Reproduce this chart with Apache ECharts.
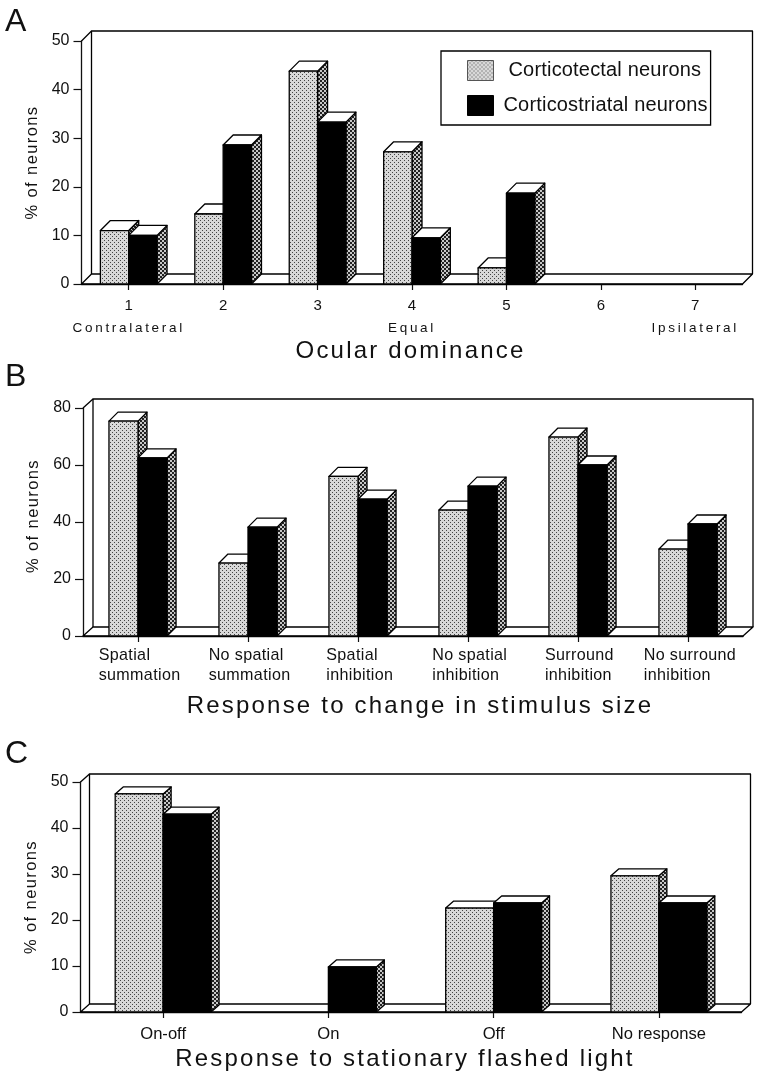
<!DOCTYPE html>
<html><head><meta charset="utf-8">
<style>html,body{margin:0;padding:0;background:#fff}#c{width:759px;height:1080px}</style>
<script src="https://cdn.jsdelivr.net/npm/echarts@6/dist/echarts.min.js"></script>
</head><body><div id="c"></div>
<script>
// ---- data ----
const seriesNames = ['Corticotectal neurons', 'Corticostriatal neurons'];
const catsA = ['1', '2', '3', '4', '5', '6', '7'];
const subLabelsA = ['Contralateral', '', '', 'Equal', '', '', 'Ipsilateral'];
const tectalA = [11, 14.4, 43.8, 27.2, 3.3, null, null];
const striatalA = [10, 28.6, 33.3, 9.5, 18.7, null, null];
const catsB = ['Spatial\nsummation', 'No spatial\nsummation', 'Spatial\ninhibition', 'No spatial\ninhibition', 'Surround\ninhibition', 'No surround\ninhibition'];
const tectalB = [75.4, 25.6, 56, 44.2, 69.8, 30.5];
const striatalB = [62.5, 38.2, 48, 52.6, 60, 39.3];
const catsC = ['On-off', 'On', 'Off', 'No response'];
const tectalC = [47.4, null, 22.6, 29.6];
const striatalC = [43, 9.8, 23.7, 23.7];
const titles = ['Ocular dominance', 'Response to change in stimulus size', 'Response to stationary flashed light'];

// tracking of the typeset figure text, keyed by font size
const tracking = {24: 2.2, 13.5: 2.7, 16.5: 1.4, 20: 0.18, 16.1: 0.35};
const ft = CanvasRenderingContext2D.prototype.fillText;
CanvasRenderingContext2D.prototype.fillText = function (t, x, y, m) {
  const s = parseFloat((this.font.match(/([\d.]+)px/) || [0, 0])[1]);
  this.letterSpacing = (tracking[s] || 0) + 'px';
  return m === undefined ? ft.call(this, t, x, y) : ft.call(this, t, x, y, m);
};

function stipple(bg, dot, size) {
  const c = document.createElement('canvas');
  c.width = c.height = 4;
  const g = c.getContext('2d');
  g.fillStyle = bg; g.fillRect(0, 0, 4, 4);
  g.fillStyle = dot;
  g.fillRect(0, 0, size, size); g.fillRect(2, 2, size, size);
  return {image: c, repeat: 'repeat'};
}
const light = stipple('#d8d8d8', '#444444', 1);
const dark = stipple('#c8c8c8', '#222222', 2);
const ink = '#111';
const FONT = '"Liberation Sans", Arial, sans-serif';

function bars(dep, gi, k, name, vals, frac) {
  return {
    type: 'custom', name, xAxisIndex: gi, yAxisIndex: gi, clip: false, z: 3 + k,
    itemStyle: {color: k === 0 ? light : '#000'},
    data: vals.map((v, i) => [i, v === null ? NaN : v]),
    encode: {x: 0, y: 1},
    renderItem(params, api) {
      const v = api.value(1);
      if (isNaN(v)) return null;
      const c = api.coord([api.value(0), 0]);
      const t = api.coord([api.value(0), v]);
      const w = api.size([1, 0])[0] * frac;
      const x0 = k === 0 ? c[0] - w : c[0];
      const x1 = x0 + w, yb = c[1], yt = t[1];
      const line = {stroke: '#000', lineWidth: 1.3, lineJoin: 'round'};
      const poly = (pts, fill) => ({type: 'polygon', shape: {points: pts}, style: Object.assign({fill}, line)});
      return {type: 'group', children: [
        poly([[x1, yb], [x1, yt], [x1 + dep[0], yt - dep[1]], [x1 + dep[0], yb - dep[1]]], dark),
        poly([[x0, yt], [x0 + dep[0], yt - dep[1]], [x1 + dep[0], yt - dep[1]], [x1, yt]], '#fff'),
        poly([[x0, yb], [x0, yt], [x1, yt], [x1, yb]], k === 0 ? light : '#000')
      ]};
    }
  };
}
function wall(dep, gi) {
  return {
    type: 'custom', xAxisIndex: gi, yAxisIndex: gi, clip: false, z: 1, silent: true,
    data: [[0, 0]], encode: {x: 0, y: 1},
    renderItem(params) {
      const g = params.coordSys;
      const L = g.x, R = g.x + g.width, T = g.y, B = g.y + g.height, dx = dep[0], dy = dep[1];
      const s = {stroke: '#000', lineWidth: 1.3, fill: 'none', lineJoin: 'round'};
      return {type: 'group', children: [
        {type: 'polyline', shape: {points: [[L + dx, B - dy], [L + dx, T - dy], [R + dx, T - dy], [R + dx, B - dy]]}, style: s},
        {type: 'polygon', shape: {points: [[L, B], [L + dx, B - dy], [R + dx, B - dy], [R, B]]}, style: s},
        {type: 'line', shape: {x1: L, y1: T, x2: L + dx, y2: T - dy}, style: s}
      ]};
    }
  };
}
const gridsDef = [
  {left: 81.5, top: 41, width: 661, height: 243},
  {left: 83, top: 408, width: 660, height: 228},
  {left: 80.5, top: 782, width: 661, height: 230}
];
const axisLine = {show: true, lineStyle: {color: ink, width: 1.3}};
const tick = len => ({show: true, length: len, lineStyle: {color: ink, width: 1.2}, alignWithLabel: true});
function xAxis(gi, data, gap, label, namePad) {
  return {
    type: 'category', gridIndex: gi, data, boundaryGap: true,
    axisLine, axisTick: tick(6), axisLabel: Object.assign({interval: 0, color: ink, fontFamily: FONT}, label),
    name: titles[gi], nameLocation: 'middle', nameGap: gap,
    nameTextStyle: {fontSize: 24, color: ink, fontFamily: FONT, padding: namePad},
    splitLine: {show: false}
  };
}
function yAxis(gi, max, interval, gap, pad) {
  return {
    type: 'value', gridIndex: gi, min: 0, max, interval,
    axisLine, axisTick: tick(8), splitLine: {show: false},
    axisLabel: {fontSize: 16, color: ink, margin: 12, fontFamily: FONT},
    name: '% of neurons', nameLocation: 'middle', nameGap: gap, nameRotate: 90,
    nameTextStyle: {fontSize: 16.5, color: ink, fontFamily: FONT, padding: pad}
  };
}
const option = {
  animation: false,
  backgroundColor: '#fff',
  textStyle: {fontFamily: FONT},
  title: [['A', 6], ['B', 361], ['C', 738]].map((d) => ({
    text: d[0], left: 5, top: d[1], padding: 0,
    textStyle: {fontSize: 32, fontWeight: 'normal', color: ink, fontFamily: FONT}
  })),
  grid: gridsDef,
  legend: {
    data: seriesNames.map((n, i) => ({name: n, icon: 'rect',
      itemStyle: {color: i === 0 ? light : '#000', borderColor: i === 0 ? '#555' : '#000', borderWidth: 1}})),
    orient: 'vertical', left: 441, top: 51, itemWidth: 26, itemHeight: 20, itemGap: 14, itemStyle: {},
    padding: [9, 7, 9, 26], backgroundColor: '#fff', borderColor: '#000', borderWidth: 1.3, z: 10,
    textStyle: {color: ink, fontFamily: FONT, fontSize: 20,
      rich: {a: {fontSize: 20, color: ink, padding: [0, 0, 0, 10]}, b: {fontSize: 20, color: ink, padding: [0, 0, 0, 5]}}},
    formatter: n => n === seriesNames[0] ? '{a|' + n + '}' : '{b|' + n + '}',
    selectedMode: false
  },
  xAxis: [
    xAxis(0, catsA, 55, {margin: 11, fontSize: 15,
      formatter: (v, i) => '{n|' + v + '}' + (subLabelsA[i] ? '\n{s|' + subLabelsA[i] + '}' : ''),
      rich: {n: {fontSize: 15, lineHeight: 22, color: ink, fontFamily: FONT},
             s: {fontSize: 13.5, lineHeight: 22, color: ink, fontFamily: FONT}}}, [0, 3, 0, 0]),
    xAxis(1, catsB, 58, {margin: 10,
      formatter: v => v.split('\n').map(l => '{l|' + l + '}').join('\n'),
      rich: {l: {fontSize: 16.1, lineHeight: 20, align: 'left', color: ink, fontFamily: FONT}}}, [0, 0, 0, 14]),
    xAxis(2, catsC, 35, {margin: 14, fontSize: 16.6}, [0, 12, 0, 0])
  ],
  yAxis: [yAxis(0, 50, 10, 40, 0), yAxis(1, 80, 20, 36, [0, 0, 0, 12]), yAxis(2, 50, 10, 41, 0)],
  series: [
    wall([10, 10], 0), wall([10, 9], 1), wall([9, 8], 2),
    bars([10, 10], 0, 0, seriesNames[0], tectalA, 0.3),
    bars([10, 10], 0, 1, seriesNames[1], striatalA, 0.3),
    bars([9, 9], 1, 0, seriesNames[0], tectalB, 0.264),
    bars([9, 9], 1, 1, seriesNames[1], striatalB, 0.264),
    bars([8, 7], 2, 0, seriesNames[0], tectalC, 0.29),
    bars([8, 7], 2, 1, seriesNames[1], striatalC, 0.29)
  ]
};
const chart = echarts.init(document.getElementById('c'), null, {renderer: 'canvas', width: 759, height: 1080});
chart.setOption(option);
</script></body></html>
